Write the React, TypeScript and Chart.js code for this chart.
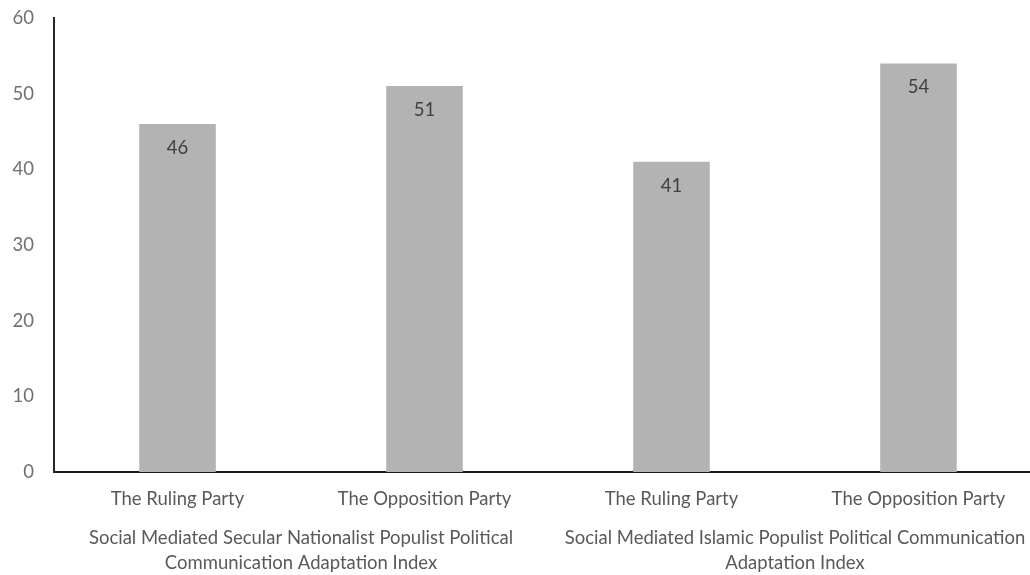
import React, { useEffect, useRef } from "react";
import { Chart, registerables } from "chart.js";

Chart.register(...registerables);

const categories = ["The Ruling Party", "The Opposition Party", "The Ruling Party", "The Opposition Party"];
const values = [46, 51, 41, 54];
const groupLabels = [
  ["Social Mediated Secular Nationalist Populist Political", "Communication Adaptation Index"],
  ["Social Mediated Islamic Populist Political Communication", "Adaptation Index"],
];
const yTicks = [0, 10, 20, 30, 40, 50, 60];

const FONT = "Lato, 'Open Sans', sans-serif";
const SIZE = 18.5;

// Draws the value inside the top of each bar
const valueLabels = {
  id: "valueLabels",
  afterDatasetsDraw(chart: any) {
    const { ctx } = chart;
    const meta = chart.getDatasetMeta(0);
    ctx.save();
    ctx.font = `${SIZE}px ${FONT}`;
    ctx.fillStyle = "#404040";
    ctx.textAlign = "center";
    ctx.textBaseline = "middle";
    meta.data.forEach((bar: any, i: number) => {
      ctx.fillText(String(values[i]), bar.x, bar.y + 24);
    });
    ctx.restore();
  },
};

// Draws the second level of category labels, centred under each pair of bars
const groupAxis = {
  id: "groupAxis",
  afterDraw(chart: any) {
    const { ctx } = chart;
    const x = chart.scales.x;
    ctx.save();
    ctx.font = `${SIZE}px ${FONT}`;
    ctx.fillStyle = "#595959";
    ctx.textAlign = "center";
    ctx.textBaseline = "middle";
    groupLabels.forEach((lines, g) => {
      const cx = (x.getPixelForValue(g * 2) + x.getPixelForValue(g * 2 + 1)) / 2;
      lines.forEach((line, li) => {
        ctx.fillText(line, cx, x.top + 66 + li * 25);
      });
    });
    ctx.restore();
  },
};

export default function App() {
  const ref = useRef<HTMLCanvasElement>(null);

  useEffect(() => {
    if (!ref.current) return;
    const chart = new Chart(ref.current, {
      type: "bar",
      data: {
        labels: categories,
        datasets: [
          {
            data: values,
            backgroundColor: "#b3b3b3",
            categoryPercentage: 1,
            barPercentage: 0.31,
          },
        ],
      },
      options: {
        responsive: false,
        animation: false,
        layout: { padding: 0 },
        plugins: { legend: { display: false }, tooltip: { enabled: false } },
        scales: {
          x: {
            grid: { display: false },
            border: { display: true, color: "#1a1a1a", width: 2 },
            ticks: { color: "#595959", font: { family: FONT, size: SIZE }, padding: 8, maxRotation: 0, autoSkip: false },
            afterFit: (s: any) => { s.height = 103; },
          },
          y: {
            min: 0,
            max: 60,
            afterBuildTicks: (s: any) => { s.ticks = yTicks.map((v) => ({ value: v })); },
            grid: { display: false },
            border: { display: true, color: "#262626", width: 2 },
            ticks: { color: "#707070", font: { family: FONT, size: SIZE }, padding: 12 },
            afterFit: (s: any) => { s.width = 54; s.paddingTop = 18; s.paddingBottom = 0; },
          },
        },
      },
      plugins: [valueLabels, groupAxis],
    });
    return () => chart.destroy();
  }, []);

  return (
    <div style={{ position: "fixed", left: 0, top: 0, width: 1030, height: 575, overflow: "hidden", background: "#fff" }}>
      <canvas ref={ref} width={1042} height={575} style={{ display: "block", width: 1042, height: 575 }} />
    </div>
  );
}
